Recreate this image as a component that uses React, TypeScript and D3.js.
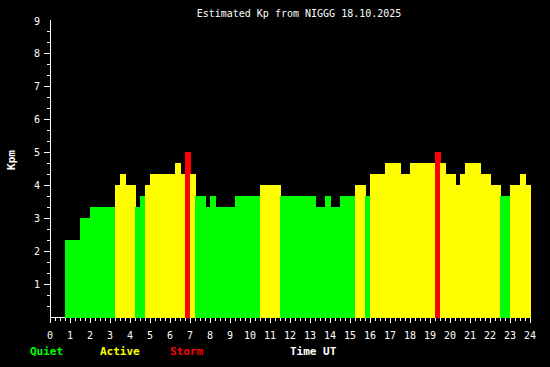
import React, { useEffect, useRef } from "react";
import * as d3 from "d3";

// estimated Kp per 15 minute slot, 00:00 .. 24:00 UT (null = no data)
const kpValues: (number | null)[] = [
  null, null, null, 2.33, 2.33, 2.33, 3, 3,
  3.33, 3.33, 3.33, 3.33, 3.33, 4, 4.33, 4,
  4, 3.33, 3.67, 4, 4.33, 4.33, 4.33, 4.33,
  4.33, 4.67, 4.33, 5, 4.33, 3.67, 3.67, 3.33,
  3.67, 3.33, 3.33, 3.33, 3.33, 3.67, 3.67, 3.67,
  3.67, 3.67, 4, 4, 4, 4, 3.67, 3.67,
  3.67, 3.67, 3.67, 3.67, 3.67, 3.33, 3.33, 3.67,
  3.33, 3.33, 3.67, 3.67, 3.67, 4, 4, 3.67,
  4.33, 4.33, 4.33, 4.67, 4.67, 4.67, 4.33, 4.33,
  4.67, 4.67, 4.67, 4.67, 4.67, 5, 4.67, 4.33,
  4.33, 4, 4.33, 4.67, 4.67, 4.67, 4.33, 4.33,
  4, 4, 3.67, 3.67, 4, 4, 4.33, 4,
];

const slotHours = 0.25;
const hourTicks = d3.range(0, 25);
const kpTicks = d3.range(1, 10);
const kpMinorTicks = d3.range(1, 27).map((d) => d / 3);
const hourMinorTicks = d3.range(0, 97).map((d) => d / 4);

const legend = [
  { label: "Quiet", color: "#00ff00", x: 30 },
  { label: "Active", color: "#ffff00", x: 100 },
  { label: "Storm", color: "#ff0000", x: 170 },
];

const kpColor = (v: number) =>
  v >= 5 ? "#ff0000" : v >= 4 ? "#ffff00" : "#00ff00";

const App: React.FC = () => {
  const svgRef = useRef<SVGSVGElement | null>(null);

  useEffect(() => {
    if (!svgRef.current) return;
    const svg = d3.select(svgRef.current);
    svg.selectAll("*").remove();

    const font = "'DejaVu Sans Mono', monospace";
    const x = d3.scaleLinear().domain([0, 24]).range([50, 530]);
    const y = d3.scaleLinear().domain([0, 9]).range([317, 20.5]);

    svg.append("rect").attr("width", 550).attr("height", 367).attr("fill", "#000");

    svg
      .append("text")
      .attr("x", 299)
      .attr("y", 17)
      .attr("text-anchor", "middle")
      .attr("fill", "#fff")
      .attr("font-family", font)
      .attr("font-size", 10)
      .text("Estimated Kp from NIGGG 18.10.2025");

    // axes lines
    const axis = svg.append("g").attr("stroke", "#fff").attr("shape-rendering", "crispEdges");
    axis.append("line").attr("x1", 50.5).attr("x2", 50.5).attr("y1", 20).attr("y2", 323);
    axis.append("line").attr("x1", 50).attr("x2", 531).attr("y1", 317.5).attr("y2", 317.5);

    axis
      .selectAll(".ymin")
      .data(kpMinorTicks)
      .join("line")
      .attr("x1", (d) => (Number.isInteger(Math.round(d * 1000) / 1000) ? 44 : 47))
      .attr("x2", 50)
      .attr("y1", (d) => Math.round(y(d)) + 0.5)
      .attr("y2", (d) => Math.round(y(d)) + 0.5);

    axis
      .selectAll(".xmin")
      .data(hourMinorTicks)
      .join("line")
      .attr("x1", (d) => Math.round(x(d)) + 0.5)
      .attr("x2", (d) => Math.round(x(d)) + 0.5)
      .attr("y1", 318)
      .attr("y2", (d) => (Number.isInteger(d) ? 323 : 321));

    // bars, drawn in order, one pixel overlap like the original
    const bars = kpValues
      .map((v, i) => ({ h: i * slotHours, v }))
      .filter((d) => d.v !== null) as { h: number; v: number }[];

    svg
      .append("g")
      .attr("shape-rendering", "crispEdges")
      .selectAll("rect")
      .data(bars)
      .join("rect")
      .attr("x", (d) => Math.round(x(d.h)))
      .attr("width", (d) => Math.round(x(d.h + slotHours)) - Math.round(x(d.h)) + 1)
      .attr("y", (d) => Math.round(y(d.v)))
      .attr("height", (d) => 318 - Math.round(y(d.v)))
      .attr("fill", (d) => kpColor(d.v));

    // tick labels
    svg
      .append("g")
      .attr("fill", "#fff")
      .attr("font-family", font)
      .attr("font-size", 10)
      .attr("text-anchor", "end")
      .selectAll("text")
      .data(kpTicks)
      .join("text")
      .attr("x", 40)
      .attr("y", (d) => y(d) + 4)
      .text((d) => d);

    svg
      .append("g")
      .attr("fill", "#fff")
      .attr("font-family", font)
      .attr("font-size", 10)
      .attr("text-anchor", "middle")
      .selectAll("text")
      .data(hourTicks)
      .join("text")
      .attr("x", (d) => x(d))
      .attr("y", 339)
      .text((d) => d);

    svg
      .append("text")
      .attr("transform", "translate(15,160) rotate(-90)")
      .attr("text-anchor", "middle")
      .attr("fill", "#fff")
      .attr("font-family", font)
      .attr("font-weight", "bold")
      .attr("font-size", 11)
      .text("Kpm");

    svg
      .append("g")
      .attr("font-family", font)
      .attr("font-weight", "bold")
      .attr("font-size", 11)
      .selectAll("text")
      .data(legend)
      .join("text")
      .attr("x", (d) => d.x)
      .attr("y", 355)
      .attr("fill", (d) => d.color)
      .text((d) => d.label);

    svg
      .append("text")
      .attr("x", 290)
      .attr("y", 355)
      .attr("fill", "#fff")
      .attr("font-family", font)
      .attr("font-weight", "bold")
      .attr("font-size", 11)
      .text("Time UT");
  }, []);

  return (
    <div style={{ position: "fixed", left: 0, top: 0 }}>
      <svg ref={svgRef} width="550" height="367"></svg>
    </div>
  );
};

export default App;
